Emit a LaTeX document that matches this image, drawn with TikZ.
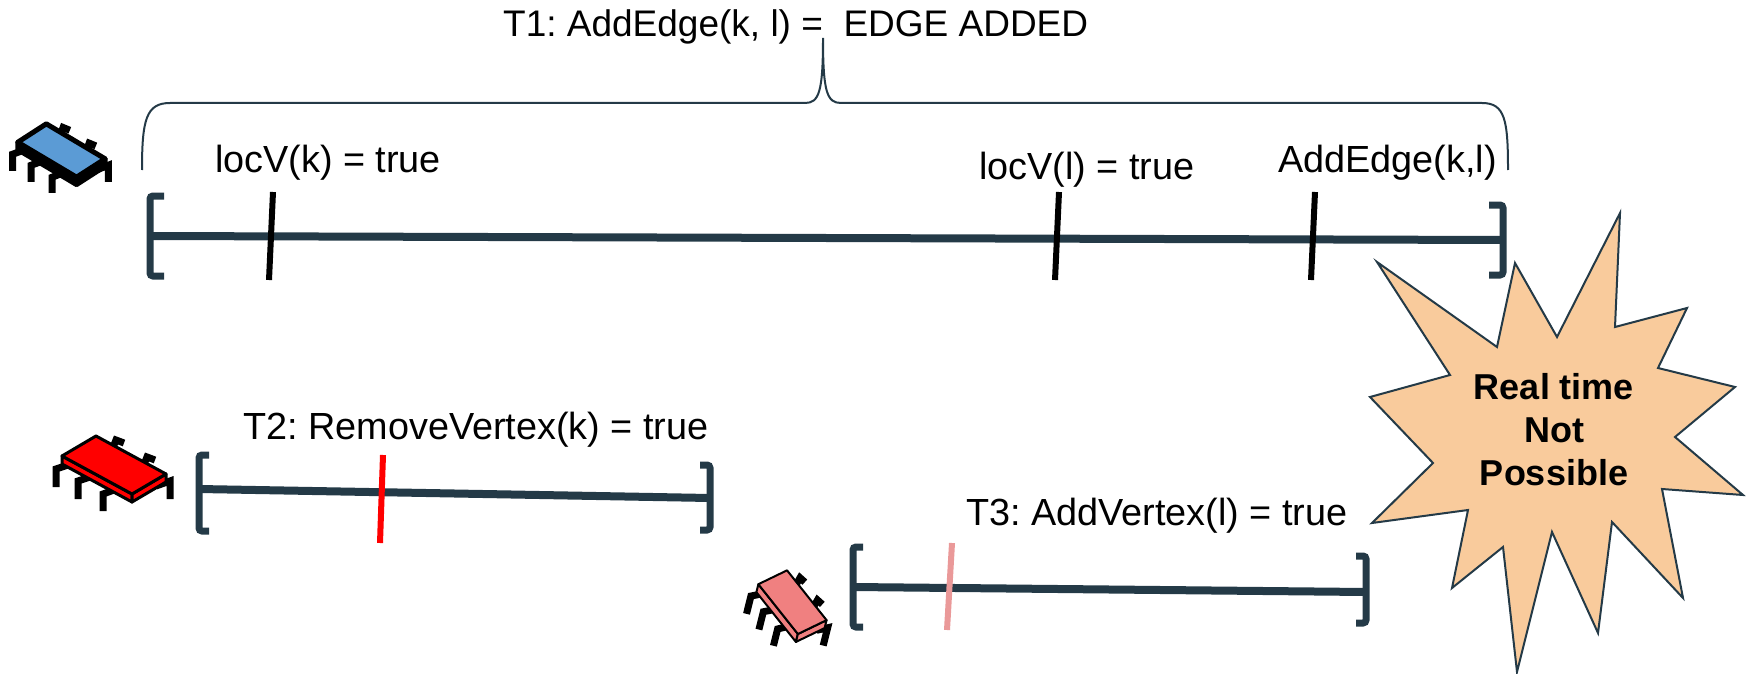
\documentclass[tikz,border=0pt]{standalone}
\usepackage{fontspec}
\setmainfont{Liberation Sans}
\definecolor{slate}{HTML}{243A47}
\definecolor{peach}{HTML}{F9CB9C}
\definecolor{chipblue}{HTML}{5B9BD5}
\definecolor{chipred}{HTML}{FF0000}
\definecolor{chippink}{HTML}{F08080}
\definecolor{tickpink}{HTML}{EA9999}
\tikzset{
  axis/.style={draw=slate,line width=8pt},
  brk/.style={draw=slate,line width=7pt,rounded corners=3pt},
  tk/.style={line width=6pt},
  lbl/.style={font=\fontsize{37.8}{42}\selectfont,anchor=base west,inner sep=0pt},
  brace/.style={draw=slate,line width=2pt},
  leg/.style={draw=black,line width=7pt,line join=miter},
  % small processor icon: top colour, side colour, outline width
  pics/chip/.style n args={3}{code={
    % pins behind the body
    \draw[leg] (64,16) -- (68,6) -- (76,9);
    \draw[leg] (95,33) -- (99,23) -- (107,26);
    % pins in front
    \draw[leg] (20,31) -- (8,35) -- (8,53);
    \draw[leg] (42,43) -- (30,47) -- (30,65);
    \draw[leg] (66,56) -- (55,60) -- (55,77);
    \draw[leg] (108,52) -- (122,47) -- (122,65);
    % body
    \filldraw[fill=#2,draw=black,line width=#3,line join=round]
      (14,22) -- (84,60) -- (84,68) -- (14,30) -- cycle;
    \filldraw[fill=#2,draw=black,line width=#3,line join=round]
      (84,60) -- (118,40) -- (118,48) -- (84,68) -- cycle;
    \filldraw[fill=#1,draw=black,line width=#3,line join=round]
      (14,22) -- (48,2) -- (118,40) -- (84,60) -- cycle;
  }}
}
\begin{document}
\frenchspacing
\begin{tikzpicture}[x=1pt,y=-1pt]
\useasboundingbox (0,0) rectangle (1750,674);

% ---------- T1 ----------
\coordinate (t1a) at (150,236);
\coordinate (t1b) at (1503,240);
\draw[axis] (t1a) -- (t1b);
\draw[brk] ([shift={(14,-40)}]t1a) -- ++(-14,0) -- ++(0,80) -- ++(14,0);
\draw[brk] ([shift={(-14,-35)}]t1b) -- ++(14,0) -- ++(0,70) -- ++(-14,0);
\draw[tk] (273,192) -- (269,280);
\draw[tk] (1059,192) -- (1055,280);
\draw[tk] (1315,192) -- (1311,280);

\node[lbl] (lk) at (215,172) {locV(k) = true};
\node[lbl] (ll) at (979,179) {locV(l) = true};
\node[lbl] (ae) at (1278,172) {AddEdge(k,l)};
\node[lbl,font=\fontsize{37}{42}\selectfont] (title) at (503,37)
  {T1: AddEdge(k, l) =\ \ EDGE ADDED};

% curly brace over T1
\coordinate (bl) at (142,170);
\coordinate (btip) at (823,38);
\coordinate (br) at (1508,170);
\draw[brace] (bl) .. controls (142,120) and (146,103) .. (170,103)
  -- (805,103) .. controls (819,103) and (823,92) .. (btip)
  .. controls (823,92) and (827,103) .. (841,103)
  -- (1482,103) .. controls (1505,103) and (1508,120) .. (br);

\pic at (6,122) [xscale=0.84,yscale=0.92] {chip={chipblue}{black}{5pt}};

% ---------- T2 ----------
\coordinate (t2a) at (199,489);
\coordinate (t2b) at (710,498);
\draw[axis] (t2a) -- (t2b);
\draw[brk] ([shift={(10,-34)}]t2a) -- ++(-10,0) -- ++(0,76) -- ++(10,0);
\draw[brk] ([shift={(-10,-33)}]t2b) -- ++(10,0) -- ++(0,65) -- ++(-10,0);
\draw[tk,draw=chipred] (383,455) -- (380,543);
\node[lbl] (t2l) at (243,439) {T2: RemoveVertex(k) = true};
\pic at (48,434) {chip={chipred}{chipred}{3pt}};

% ---------- T3 ----------
\coordinate (t3a) at (853,587);
\coordinate (t3b) at (1366,592);
\draw[axis] (t3a) -- (t3b);
\draw[brk] ([shift={(10,-40)}]t3a) -- ++(-10,0) -- ++(0,80) -- ++(10,0);
\draw[brk] ([shift={(-10,-36)}]t3b) -- ++(10,0) -- ++(0,67) -- ++(-10,0);
\draw[tk,draw=tickpink] (952,543) -- (947,630);
\node[lbl] (t3l) at (966,525) {T3: AddVertex(l) = true};
\pic at (754,560) [rotate=-14,xscale=0.72,yscale=1.02] {chip={chippink}{chippink}{2pt}};

% ---------- starburst ----------
\filldraw[fill=peach,draw=slate,line width=2pt,line join=miter]
  (1620,213) -- (1615,327) -- (1687,308) -- (1658,368) -- (1735,387)
  -- (1675,437) -- (1743,495) -- (1662,489) -- (1683,598) -- (1612,522)
  -- (1598,633) -- (1552,532) -- (1517,672) -- (1503,547) -- (1452,588)
  -- (1468,510) -- (1372,523) -- (1433,463) -- (1370,397) -- (1450,375)
  -- (1377,262) -- (1497,347) -- (1515,263) -- (1557,337) -- cycle;
\node[font=\bfseries\fontsize{36}{43}\selectfont,align=center,inner sep=0pt]
  (burst) at (1554,430) {Real time\\Not\\Possible};
\end{tikzpicture}
\end{document}
